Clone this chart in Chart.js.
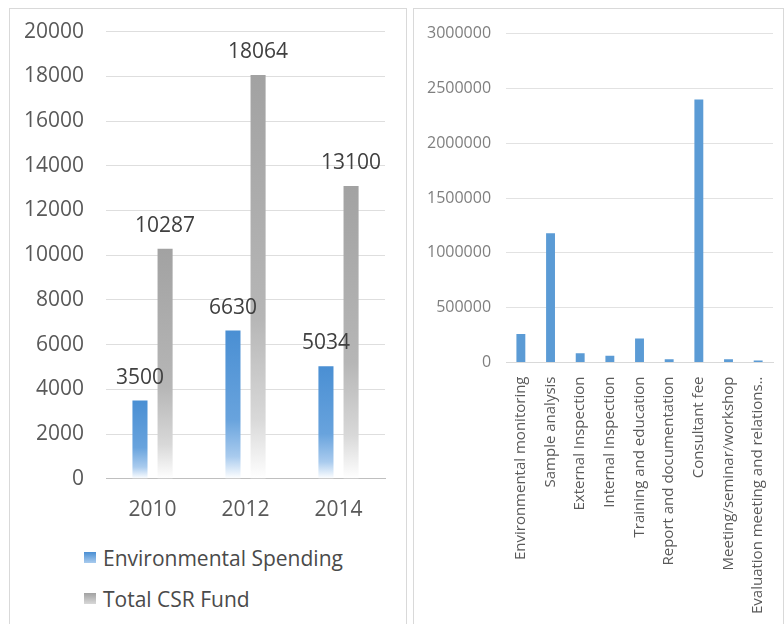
<!DOCTYPE html>
<html>
<head>
<meta charset="utf-8">
<script src="https://cdn.jsdelivr.net/npm/chart.js@4.4.1/dist/chart.umd.min.js"></script>
<style>
  html, body { margin: 0; padding: 0; background: #fff; }
  body { width: 784px; height: 624px; position: relative; overflow: hidden; font-family: 'Open Sans', sans-serif; }
  .panel { position: absolute; border: 1px solid #d9d9d9; background: #fff; }
  #panel-left { left: 9px; top: 8px; width: 396px; height: 630px; }
  #panel-right { left: 413px; top: 8px; width: 369px; height: 630px; }
  .cwrap { position: absolute; }
  #wrap-left { left: -8px; top: -12px; width: 404px; height: 537px; }
  #wrap-right { left: -2px; top: 0; width: 371px; height: 611px; }
  .legend { position: absolute; left: 74px; font-size: 21px; color: #4a4a4a; line-height: 28px; }
  .legend div { display: flex; align-items: center; height: 41px; }
  .legend span.box { display: inline-block; width: 12px; height: 11px; margin-right: 7px; }
</style>
</head>
<body>
<div class="panel" id="panel-left">
  <div class="cwrap" id="wrap-left"><canvas id="chart-left"></canvas></div>
  <div class="legend" id="legend-left" style="top:528px"></div>
</div>
<div class="panel" id="panel-right">
  <div class="cwrap" id="wrap-right"><canvas id="chart-right"></canvas></div>
</div>
<script>
// Données
const years = ['2010', '2012', '2014'];
const envSpending = [3500, 6630, 5034];
const totalCsrFund = [10287, 18064, 13100];
const leftTicks = [0, 2000, 4000, 6000, 8000, 10000, 12000, 14000, 16000, 18000, 20000];

const costItems = [
    'Environmental monitoring',
    'Sample analysis',
    'External Inspection',
    'Internal Inspection',
    'Training and education',
    'Report and documentation',
    'Consultant fee',
    'Meeting/seminar/workshop',
    'Evaluation meeting and relations..'
];
const costValues = [260000, 1180000, 84000, 61000, 218000, 30000, 2400000, 30000, 18000];
const rightTicks = [0, 500000, 1000000, 1500000, 2000000, 2500000, 3000000];

(function () {
    'use strict';

    Chart.defaults.font.family = "'Open Sans', sans-serif";
    Chart.defaults.color = '#595959';

    const BLUE_STOPS = ['#4a8fd3', '#68a3dd', '#a9cbee', '#ffffff'];
    const GRAY_STOPS = ['#a2a2a2', '#b6b6b6', '#d8d8d8', '#ffffff'];

    // dégradé vertical propre à chaque barre (haut -> bas)
    function barGradient(stops) {
        return function (context) {
            const chart = context.chart;
            if (!chart.chartArea) return stops[0];
            const y = chart.scales.y;
            const v = context.raw;
            if (typeof v !== 'number') return stops[0];
            const top = y.getPixelForValue(v);
            const bottom = y.getPixelForValue(0);
            if (bottom - top < 1) return stops[0];
            const g = chart.ctx.createLinearGradient(0, top, 0, bottom);
            g.addColorStop(0, stops[0]);
            g.addColorStop(0.6, stops[1]);
            g.addColorStop(0.85, stops[2]);
            g.addColorStop(1, stops[3]);
            return g;
        };
    }

    // étiquettes de valeur au-dessus des barres
    const valueLabels = {
        id: 'valueLabels',
        afterDatasetsDraw(chart) {
            const ctx = chart.ctx;
            ctx.save();
            ctx.font = "21px 'Open Sans', sans-serif";
            ctx.fillStyle = '#404040';
            ctx.textAlign = 'center';
            ctx.textBaseline = 'middle';
            chart.data.datasets.forEach(function (ds, i) {
                const meta = chart.getDatasetMeta(i);
                meta.data.forEach(function (el, j) {
                    ctx.fillText(String(ds.data[j]), el.x, el.y - 23);
                });
            });
            ctx.restore();
        }
    };

    function buildLeft() {
        return {
            type: 'bar',
            data: {
                labels: years,
                datasets: [{
                    label: 'Environmental Spending',
                    data: envSpending,
                    backgroundColor: barGradient(BLUE_STOPS),
                    categoryPercentage: 0.54,
                    barPercentage: 0.6,
                }, {
                    label: 'Total CSR Fund',
                    data: totalCsrFund,
                    backgroundColor: barGradient(GRAY_STOPS),
                    categoryPercentage: 0.54,
                    barPercentage: 0.6,
                }]
            },
            options: {
                responsive: true,
                maintainAspectRatio: false,
                animation: false,
                layout: { padding: { left: 0, right: 21, top: 0, bottom: 0 } },
                plugins: { legend: { display: false }, tooltip: { enabled: false } },
                scales: {
                    x: {
                        grid: { display: false },
                        border: { display: true, color: '#bfbfbf' },
                        ticks: { font: { size: 21 }, padding: 11 }
                    },
                    y: {
                        min: 0,
                        max: 20000,
                        afterBuildTicks: function (axis) {
                            axis.ticks = leftTicks.map(function (v) { return { value: v }; });
                        },
                        grid: { color: '#dedede', drawTicks: false },
                        border: { display: false },
                        ticks: { font: { size: 21 }, padding: 22, callback: function (v) { return String(v); } }
                    }
                }
            },
            plugins: [valueLabels]
        };
    }

    function buildRight() {
        return {
            type: 'bar',
            data: {
                labels: costItems,
                datasets: [{
                    label: 'Cost',
                    data: costValues,
                    backgroundColor: '#5b9bd5',
                    categoryPercentage: 1,
                    barPercentage: 0.3,
                }]
            },
            options: {
                responsive: true,
                maintainAspectRatio: false,
                animation: false,
                layout: { padding: { left: 0, right: 10, top: 10, bottom: 0 } },
                plugins: { legend: { display: false }, tooltip: { enabled: false } },
                scales: {
                    x: {
                        grid: { display: false },
                        border: { display: true, color: '#d9d9d9' },
                        ticks: { font: { size: 15 }, padding: 6, minRotation: 90, maxRotation: 90, autoSkip: false }
                    },
                    y: {
                        min: 0,
                        max: 3000000,
                        afterBuildTicks: function (axis) {
                            axis.ticks = rightTicks.map(function (v) { return { value: v }; });
                        },
                        grid: { color: '#e2e2e2', drawTicks: false },
                        border: { display: false },
                        ticks: { font: { size: 16 }, color: '#7f7f7f', padding: 15, callback: function (v) { return String(v); } }
                    }
                }
            }
        };
    }

    function buildLegend() {
        const box = document.getElementById('legend-left');
        const items = [
            { text: 'Environmental Spending', css: 'linear-gradient(#4a8fd3, #a9cbee)' },
            { text: 'Total CSR Fund', css: 'linear-gradient(#a2a2a2, #d8d8d8)' }
        ];
        items.forEach(function (it) {
            const row = document.createElement('div');
            const sq = document.createElement('span');
            sq.className = 'box';
            sq.style.background = it.css;
            row.appendChild(sq);
            row.appendChild(document.createTextNode(it.text));
            box.appendChild(row);
        });
    }

    new Chart(document.getElementById('chart-left'), buildLeft());
    new Chart(document.getElementById('chart-right'), buildRight());
    buildLegend();
})();
</script>
</body>
</html>
